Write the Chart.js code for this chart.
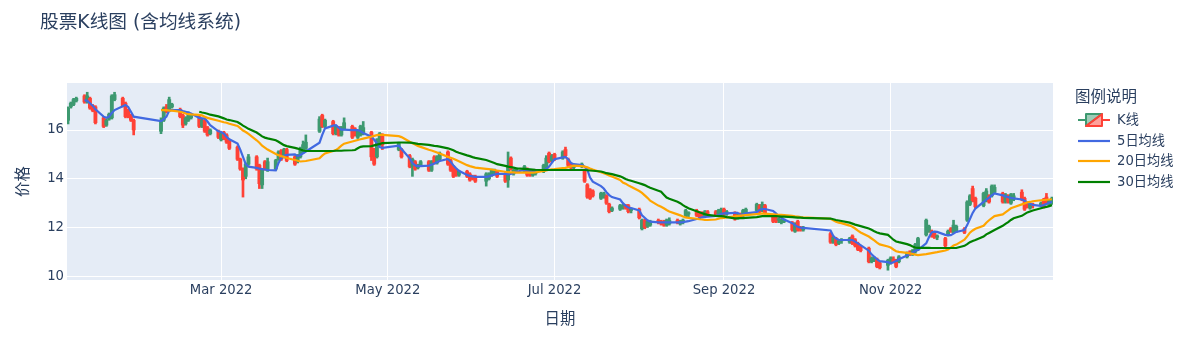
<!DOCTYPE html>
<html lang="zh-CN">
<head>
<meta charset="utf-8">
<title>股票K线图 (含均线系统)</title>
<script src="https://cdn.jsdelivr.net/npm/chart.js@4/dist/chart.umd.min.js"></script>
<style>
  html, body { margin:0; padding:0; background:#fff; }
  #wrap { position:relative; width:1185px; height:339px; overflow:hidden; color:#2a3f5f;
          font-family:"DejaVu Sans","Noto Sans CJK SC",sans-serif; }
  #chart { position:absolute; left:0; top:0; }
  #title { position:absolute; left:40px; top:12px; font-size:18.7px; line-height:20px; white-space:nowrap; }
  .lgtitle { position:absolute; left:1075px; top:89px; font-size:15.5px; line-height:17px; white-space:nowrap; }
  .row { position:absolute; left:1078px; height:16px; white-space:nowrap; }
  .row svg { position:absolute; left:0; top:1px; }
  .row span { position:absolute; left:39px; top:0; font-size:13.2px; line-height:16px; }
</style>
</head>
<body>
<div id="wrap">
  <canvas id="chart" width="1185" height="339"></canvas>
  <div id="title">股票K线图 (含均线系统)</div>
  <div class="lgtitle">图例说明</div>
  <div class="row" style="top:112px">
    <svg width="32" height="14" viewBox="0 0 32 14">
      <line x1="0" y1="7" x2="8" y2="7" stroke="#3D9970" stroke-width="2"/>
      <line x1="24" y1="7" x2="32" y2="7" stroke="#FF4136" stroke-width="2"/>
      <polygon points="8,1 24,1 8,13" fill="rgba(61,153,112,0.5)" stroke="#3D9970" stroke-width="2" stroke-linejoin="round"/>
      <polygon points="24,1 24,13 8,13" fill="rgba(255,65,54,0.5)" stroke="#FF4136" stroke-width="2" stroke-linejoin="round"/>
    </svg>
    <span>K线</span>
  </div>
  <div class="row" style="top:132.5px">
    <svg width="32" height="14" viewBox="0 0 32 14"><line x1="0" y1="7" x2="32" y2="7" stroke="#4169E1" stroke-width="2.2"/></svg>
    <span>5日均线</span>
  </div>
  <div class="row" style="top:153px">
    <svg width="32" height="14" viewBox="0 0 32 14"><line x1="0" y1="7" x2="32" y2="7" stroke="#FFA500" stroke-width="2.2"/></svg>
    <span>20日均线</span>
  </div>
  <div class="row" style="top:173.5px">
    <svg width="32" height="14" viewBox="0 0 32 14"><line x1="0" y1="7" x2="32" y2="7" stroke="#008000" stroke-width="2.2"/></svg>
    <span>30日均线</span>
  </div>
</div>
<script>
// ---- trading dates (2022, SSE calendar) ----
const dates = [
"01-04","01-05","01-06","01-07","01-10","01-11","01-12","01-13","01-14","01-17","01-18","01-19","01-20","01-21","01-24","01-25","01-26","01-27","01-28",
"02-07","02-08","02-09","02-10","02-11","02-14","02-15","02-16","02-17","02-18","02-21","02-22","02-23","02-24","02-25","02-28",
"03-01","03-02","03-03","03-04","03-07","03-08","03-09","03-10","03-11","03-14","03-15","03-16","03-17","03-18","03-21","03-22","03-23","03-24","03-25","03-28","03-29","03-30","03-31",
"04-01","04-06","04-07","04-08","04-11","04-12","04-13","04-14","04-15","04-18","04-19","04-20","04-21","04-22","04-25","04-26","04-27","04-28","04-29",
"05-05","05-06","05-09","05-10","05-11","05-12","05-13","05-16","05-17","05-18","05-19","05-20","05-23","05-24","05-25","05-26","05-27","05-30","05-31",
"06-01","06-02","06-06","06-07","06-08","06-09","06-10","06-13","06-14","06-15","06-16","06-17","06-20","06-21","06-22","06-23","06-24","06-27","06-28","06-29","06-30",
"07-01","07-04","07-05","07-06","07-07","07-08","07-11","07-12","07-13","07-14","07-15","07-18","07-19","07-20","07-21","07-22","07-25","07-26","07-27","07-28","07-29",
"08-01","08-02","08-03","08-04","08-05","08-08","08-09","08-10","08-11","08-12","08-15","08-16","08-17","08-18","08-19","08-22","08-23","08-24","08-25","08-26","08-29","08-30","08-31",
"09-01","09-02","09-05","09-06","09-07","09-08","09-09","09-13","09-14","09-15","09-16","09-19","09-20","09-21","09-22","09-23","09-26","09-27","09-28","09-29","09-30",
"10-10","10-11","10-12","10-13","10-14","10-17","10-18","10-19","10-20","10-21","10-24","10-25","10-26","10-27","10-28","10-31",
"11-01","11-02","11-03","11-04","11-07","11-08","11-09","11-10","11-11","11-14","11-15","11-16","11-17","11-18","11-21","11-22","11-23","11-24","11-25","11-28","11-29","11-30",
"12-01","12-02","12-05","12-06","12-07","12-08","12-09","12-12","12-13","12-14","12-15","12-16","12-19","12-20","12-21","12-22","12-23","12-26","12-27","12-28","12-29","12-30"
];

const open = [
16.40,16.95,17.05,17.20,17.40,17.15,17.30,17.00,16.95,16.50,16.20,16.45,16.50,17.25,17.30,17.10,16.80,16.60,16.40,
15.95,16.40,16.95,16.80,16.95,16.85,16.60,16.25,16.40,16.50,16.55,16.15,16.40,16.10,15.85,15.95,
15.60,15.90,15.80,15.55,15.30,14.80,14.40,14.10,14.60,14.90,14.55,13.75,14.70,14.35,14.40,14.80,15.15,14.90,15.20,14.90,14.70,14.90,15.10,
15.25,15.95,16.60,16.15,16.35,15.85,16.10,15.80,16.05,16.15,16.05,15.70,15.80,15.85,15.90,15.20,14.90,15.40,15.80,
15.20,15.20,14.95,14.50,14.70,14.45,14.55,14.70,14.35,14.90,14.65,14.80,15.10,14.75,14.50,14.35,14.15,14.30,14.20,
14.05,14.10,13.90,14.00,14.15,14.25,14.30,14.20,13.95,14.85,14.20,14.35,14.30,14.40,14.30,14.15,14.20,14.30,14.40,15.05,14.75,
15.00,14.85,15.20,14.80,14.60,14.45,14.50,14.35,13.75,13.55,13.50,13.20,13.25,13.30,12.95,12.70,12.75,12.80,12.90,12.90,12.70,
12.75,11.95,12.30,12.05,12.10,12.30,12.25,12.25,12.10,12.15,12.30,12.15,12.20,12.45,12.55,12.70,12.60,12.55,12.45,12.65,12.65,12.50,12.55,
12.75,12.55,12.60,12.45,12.55,12.50,12.60,12.70,12.90,12.70,12.90,12.50,12.40,12.30,12.20,12.25,12.20,11.85,12.25,12.00,11.90,
11.75,11.40,11.55,11.35,11.45,11.40,11.65,11.50,11.35,11.20,11.15,10.60,10.65,10.70,10.55,10.45,
10.55,10.70,10.65,10.60,10.80,11.00,10.90,11.00,11.10,11.70,11.85,11.85,11.80,11.60,11.55,11.70,11.95,11.80,11.85,11.95,12.30,12.95,
13.60,13.20,12.90,13.10,13.30,13.30,13.45,13.40,13.05,13.30,13.00,13.15,13.45,13.20,13.00,12.80,12.95,12.90,13.15,13.25,12.95,13.00
];
const high = [
16.95,17.15,17.30,17.35,17.45,17.55,17.35,17.05,17.00,16.55,16.45,16.70,17.45,17.55,17.35,17.15,16.85,16.65,16.45,
16.50,16.95,17.05,17.35,17.10,16.90,16.65,16.55,16.75,16.65,16.60,16.45,16.45,16.15,16.05,16.00,
15.90,15.95,15.85,15.60,15.35,14.85,14.45,14.65,15.00,14.95,14.60,14.40,14.75,14.85,14.80,15.15,15.20,15.25,15.25,14.95,15.00,15.30,15.55,
15.80,16.55,16.65,16.45,16.40,16.20,16.15,16.15,16.50,16.20,16.10,16.00,16.20,16.35,15.95,15.25,15.65,15.90,15.85,
15.50,15.25,15.00,14.85,14.75,14.60,14.75,14.75,14.75,14.95,14.95,15.10,15.15,14.80,14.55,14.40,14.35,14.35,14.25,
14.15,14.15,14.25,14.25,14.40,14.40,14.35,14.25,15.10,14.90,14.40,14.45,14.55,14.45,14.35,14.35,14.35,14.60,14.95,15.10,15.00,
15.05,15.15,15.30,14.85,14.65,14.60,14.65,14.40,13.80,13.60,13.55,13.45,13.45,13.35,13.00,12.85,12.95,12.95,12.95,12.95,12.80,
12.80,12.35,12.35,12.30,12.30,12.35,12.30,12.30,12.35,12.40,12.35,12.30,12.35,12.75,12.65,12.75,12.65,12.65,12.70,12.70,12.70,12.75,12.80,
12.80,12.70,12.65,12.55,12.60,12.75,12.80,13.00,12.95,13.05,12.95,12.55,12.45,12.40,12.35,12.35,12.25,12.20,12.30,12.05,12.05,
11.80,11.65,11.60,11.50,11.55,11.60,11.70,11.55,11.40,11.25,11.20,10.80,10.80,10.75,10.60,10.70,
10.80,10.80,10.70,10.85,11.00,11.05,11.10,11.35,11.60,12.35,12.10,11.90,11.85,11.70,11.60,11.90,12.00,12.30,12.10,12.00,13.10,13.35,
13.70,13.25,13.45,13.60,13.35,13.75,13.75,13.45,13.40,13.35,13.40,13.40,13.55,13.25,13.05,13.00,13.00,13.05,13.20,13.40,13.15,13.25
];
const low = [
16.25,16.90,17.00,17.15,17.10,17.10,16.85,16.75,16.25,16.10,16.15,16.40,16.45,17.20,16.95,16.50,16.50,16.35,15.80,
15.85,16.35,16.70,16.75,16.90,16.50,16.10,16.20,16.35,16.45,16.10,16.10,15.90,15.75,15.80,15.65,
15.55,15.60,15.45,15.20,14.75,14.35,13.25,14.00,14.55,14.35,13.60,13.60,14.35,14.30,14.35,14.75,14.75,14.85,14.70,14.55,14.65,14.85,15.05,
15.20,15.90,16.10,16.10,15.80,15.80,15.75,15.75,16.00,15.65,15.75,15.65,15.75,15.80,14.75,14.55,14.85,15.35,15.20,
15.15,14.85,14.45,14.10,14.35,14.40,14.50,14.30,14.30,14.60,14.60,14.75,14.55,14.30,14.05,14.10,14.10,14.05,13.90,
13.95,13.85,13.70,13.95,14.10,14.20,14.05,13.85,13.65,14.35,14.15,14.25,14.25,14.10,14.10,14.10,14.15,14.25,14.35,14.65,14.70,
14.75,14.80,14.85,14.50,14.40,14.40,14.45,13.85,13.20,13.15,13.25,13.15,13.20,12.95,12.60,12.65,12.70,12.75,12.75,12.60,12.60,
12.35,11.90,11.95,12.00,12.05,12.15,12.10,12.05,12.05,12.10,12.15,12.10,12.15,12.40,12.45,12.45,12.40,12.45,12.40,12.45,12.45,12.45,12.50,
12.50,12.50,12.30,12.35,12.40,12.45,12.55,12.65,12.60,12.65,12.55,12.20,12.20,12.20,12.15,12.20,11.85,11.80,11.85,11.85,11.85,
11.35,11.35,11.25,11.30,11.35,11.35,11.30,11.20,11.05,11.00,10.55,10.55,10.60,10.35,10.30,10.25,
10.50,10.55,10.35,10.55,10.75,10.85,10.85,10.95,11.05,11.65,11.80,11.60,11.55,11.50,11.20,11.65,11.80,11.75,11.80,11.75,12.25,12.90,
13.05,12.80,12.85,13.05,13.00,13.25,13.40,13.00,13.00,13.00,12.95,13.10,13.10,12.70,12.80,12.75,12.80,12.85,12.80,12.95,12.90,12.95
];
const close = [
16.90,17.10,17.25,17.30,17.15,17.40,16.90,16.80,16.30,16.15,16.40,16.65,17.40,17.45,17.00,16.55,16.55,16.40,16.00,
16.40,16.90,16.75,17.25,17.05,16.55,16.20,16.50,16.70,16.60,16.15,16.40,15.95,15.80,16.00,15.70,
15.85,15.65,15.50,15.25,14.80,14.40,13.95,14.60,14.90,14.40,13.80,14.35,14.40,14.70,14.75,15.10,14.80,15.20,14.75,14.60,14.95,15.20,15.40,
15.50,16.45,16.15,16.40,15.85,16.15,15.80,16.10,16.30,15.70,15.80,15.95,16.15,16.10,14.90,14.60,15.60,15.85,15.40,
15.45,14.90,14.50,14.80,14.40,14.55,14.70,14.35,14.72,14.67,14.90,15.05,14.60,14.35,14.10,14.15,14.30,14.10,13.95,
14.00,13.90,14.20,14.20,14.35,14.35,14.10,13.90,14.50,14.40,14.35,14.40,14.50,14.15,14.15,14.30,14.30,14.55,14.85,14.70,14.95,
14.80,15.10,14.95,14.55,14.45,14.55,14.60,13.90,13.25,13.20,13.30,13.40,13.40,13.00,12.65,12.80,12.90,12.90,12.80,12.65,12.75,
12.40,12.30,12.00,12.25,12.25,12.20,12.15,12.10,12.30,12.30,12.20,12.25,12.30,12.70,12.60,12.50,12.45,12.50,12.65,12.50,12.50,12.70,12.75,
12.55,12.65,12.35,12.50,12.45,12.70,12.75,12.95,12.65,12.95,12.60,12.25,12.25,12.35,12.30,12.30,11.90,12.15,11.90,11.90,12.00,
11.40,11.60,11.30,11.45,11.50,11.55,11.35,11.25,11.10,11.05,10.60,10.75,10.75,10.40,10.35,10.65,
10.75,10.60,10.40,10.80,10.95,10.90,11.05,11.30,11.55,12.30,12.05,11.65,11.60,11.65,11.25,11.85,11.85,12.10,12.05,11.80,13.05,13.30,
13.10,12.85,13.40,13.50,13.05,13.70,13.65,13.05,13.35,13.05,13.35,13.30,13.15,12.75,12.85,12.95,12.90,13.00,12.85,13.00,13.10,13.20
];

// moving averages
const ma5 = [
null,null,null,null,17.23,17.20,17.10,17.00,16.85,16.55,16.50,16.55,16.70,16.82,16.98,17.03,16.95,16.75,16.55,
16.37,16.45,16.55,16.80,16.82,16.82,16.78,16.75,16.72,16.68,16.50,16.48,16.48,16.35,16.20,15.95,
15.92,15.85,15.72,15.62,15.45,15.20,14.90,14.60,14.50,14.45,14.42,14.40,14.38,14.36,14.35,14.65,14.85,14.95,14.98,15.00,14.93,14.98,15.05,
15.12,15.48,15.80,16.07,16.18,16.20,16.10,16.02,16.02,16.00,16.00,16.00,15.95,15.88,15.73,15.60,15.45,15.30,15.27,
15.36,15.22,14.84,14.65,14.55,14.52,14.52,14.54,14.58,14.63,14.68,14.73,14.81,14.70,14.55,14.43,14.33,14.16,14.12,
14.10,14.08,14.08,14.10,14.14,14.17,14.20,14.20,14.18,14.20,14.25,14.29,14.36,14.34,14.32,14.30,14.30,14.34,14.40,14.50,14.65,
14.80,14.88,14.90,14.80,14.65,14.60,14.56,14.50,14.38,14.05,13.88,13.70,13.60,13.45,13.33,13.25,13.15,13.00,12.90,12.82,12.80,
12.70,12.50,12.40,12.30,12.24,12.21,12.21,12.21,12.21,12.21,12.21,12.21,12.22,12.24,12.26,12.35,12.38,12.42,12.44,12.45,12.48,12.50,12.56,
12.58,12.58,12.60,12.60,12.52,12.54,12.58,12.63,12.72,12.76,12.76,12.68,12.58,12.46,12.40,12.33,12.18,12.10,12.03,12.00,11.99,
11.88,11.65,11.55,11.50,11.49,11.49,11.49,11.42,11.35,11.28,11.05,10.90,10.80,10.70,10.62,10.58,
10.53,10.58,10.63,10.70,10.85,10.92,10.98,11.05,11.08,11.35,11.60,11.80,11.83,11.82,11.70,11.69,11.69,11.75,11.82,11.90,12.10,12.35,
12.60,12.78,13.05,13.15,13.22,13.32,13.40,13.32,13.28,13.25,13.22,13.20,13.15,13.10,13.03,12.98,12.93,12.89,12.92,12.97,13.02,13.06
];
const ma20 = [
null,null,null,null,null,null,null,null,null,null,null,null,null,null,null,null,null,null,null,
16.82,16.82,16.82,16.80,16.80,16.75,16.72,16.68,16.65,16.64,16.62,16.60,16.55,16.50,16.47,16.38,
16.35,16.32,16.30,16.26,16.17,16.08,15.98,15.92,15.84,15.58,15.48,15.36,15.28,15.20,15.02,14.97,14.93,14.90,14.85,14.77,14.74,14.71,14.72,
14.73,14.84,14.95,15.04,15.14,15.18,15.26,15.36,15.44,15.53,15.56,15.59,15.62,15.65,15.73,15.76,15.79,15.80,15.80,
15.75,15.71,15.52,15.46,15.41,15.35,15.31,15.19,15.16,15.12,15.08,15.04,14.90,14.86,14.82,14.77,14.72,14.56,14.52,
14.49,14.46,14.41,14.40,14.38,14.36,14.34,14.29,14.27,14.26,14.26,14.25,14.25,14.25,14.25,14.25,14.26,14.32,14.34,14.37,14.39,
14.40,14.44,14.45,14.48,14.51,14.54,14.52,14.50,14.47,14.42,14.38,14.27,14.23,14.19,14.14,14.09,13.95,13.85,13.80,13.73,13.67,
13.50,13.42,13.32,13.22,13.10,12.90,12.85,12.79,12.72,12.66,12.54,12.50,12.45,12.42,12.40,12.36,12.34,12.33,12.31,12.31,12.33,12.36,12.39,
12.40,12.42,12.46,12.48,12.49,12.50,12.51,12.55,12.56,12.58,12.57,12.54,12.53,12.52,12.52,12.51,12.48,12.46,12.45,12.43,12.42,
12.36,12.30,12.24,12.20,12.18,12.08,12.03,11.96,11.87,11.80,11.63,11.55,11.47,11.38,11.31,11.22,
11.18,11.10,11.03,11.00,10.96,10.94,10.92,10.89,10.87,10.91,10.93,10.95,10.97,10.99,11.06,11.10,11.18,11.26,11.30,11.50,11.64,11.79,
11.88,11.95,12.07,12.20,12.30,12.39,12.47,12.54,12.62,12.70,12.79,12.83,12.95,12.99,13.03,13.05,13.08,13.12,13.13,13.14,13.15,13.16
];
const ma30 = [
null,null,null,null,null,null,null,null,null,null,null,null,null,null,null,null,null,null,null,
null,null,null,null,null,null,null,null,null,null,16.75,16.72,16.70,16.67,16.63,16.56,
16.52,16.48,16.43,16.41,16.33,16.26,16.18,16.12,16.05,15.90,15.82,15.74,15.69,15.66,15.58,15.52,15.45,15.38,15.34,15.27,15.24,15.20,15.16,
15.14,15.14,15.14,15.14,15.14,15.15,15.15,15.15,15.16,15.17,15.18,15.25,15.31,15.33,15.34,15.37,15.40,15.43,15.46,
15.49,15.49,15.48,15.47,15.45,15.43,15.42,15.39,15.37,15.35,15.34,15.32,15.25,15.21,15.17,15.11,15.07,14.96,14.93,
14.89,14.86,14.77,14.73,14.69,14.65,14.60,14.53,14.50,14.48,14.46,14.43,14.41,14.40,14.39,14.38,14.37,14.36,14.36,14.36,14.36,
14.36,14.36,14.36,14.36,14.36,14.36,14.36,14.36,14.35,14.34,14.33,14.30,14.27,14.23,14.21,14.19,14.10,14.05,13.99,13.95,13.92,
13.82,13.78,13.74,13.68,13.63,13.51,13.47,13.35,13.23,13.18,13.06,13.00,12.92,12.85,12.79,12.67,12.63,12.59,12.55,12.52,12.48,12.47,12.47,
12.46,12.43,12.38,12.38,12.39,12.39,12.40,12.43,12.45,12.47,12.47,12.47,12.47,12.46,12.45,12.45,12.43,12.42,12.41,12.41,12.40,
12.37,12.34,12.31,12.29,12.27,12.20,12.16,12.12,12.09,12.06,11.96,11.91,11.85,11.80,11.76,11.70,
11.60,11.50,11.43,11.40,11.32,11.28,11.22,11.18,11.17,11.17,11.17,11.16,11.16,11.16,11.16,11.16,11.16,11.16,11.16,11.25,11.32,11.40,
11.45,11.49,11.63,11.72,11.78,11.84,11.90,12.07,12.15,12.22,12.31,12.38,12.48,12.55,12.62,12.66,12.70,12.79,12.82,12.85,12.88,12.92
];

const xTickDates = ["2022-03-01","2022-05-01","2022-07-01","2022-09-01","2022-11-01"];
const xTickLabels = ["Mar 2022","May 2022","Jul 2022","Sep 2022","Nov 2022"];
const yTickValues = [10, 12, 14, 16];

// ---- helpers ----
const dayOf = s => (Date.UTC(+s.slice(0,4), +s.slice(5,7) - 1, +s.slice(8,10)) - Date.UTC(2022,0,1)) / 864e5;
const xs = dates.map(d => dayOf("2022-" + d));
const xTickValues = xTickDates.map(dayOf);
const UP = "#3D9970", DOWN = "#FF4136";
const candleColors = close.map((c, i) => c >= open[i] ? UP : DOWN);
const FONT = '"DejaVu Sans", "Noto Sans CJK SC", sans-serif';
const TXT = "#2a3f5f";

const plotBg = {
  id: "plotBg",
  beforeDraw(chart) {
    const { ctx, chartArea: a } = chart;
    ctx.save();
    ctx.fillStyle = "#E5ECF6";
    ctx.fillRect(a.left, a.top, a.right - a.left, a.bottom - a.top);
    ctx.restore();
  }
};

const lineDs = (label, arr, color, order) => ({
  type: "line", label, order,
  data: xs.map((x, i) => ({ x, y: arr[i] })),
  borderColor: color, backgroundColor: color, borderWidth: 2.2,
  pointRadius: 0, pointHoverRadius: 0, fill: false, tension: 0, spanGaps: false
});

new Chart(document.getElementById("chart"), {
  type: "bar",
  data: {
    datasets: [
      { type: "bar", label: "wick", order: 6, grouped: false,
        data: xs.map((x, i) => ({ x, y: [low[i], high[i]] })),
        backgroundColor: candleColors, barThickness: 2, borderWidth: 0 },
      { type: "bar", label: "K线", order: 5, grouped: false,
        data: xs.map((x, i) => ({ x, y: [Math.min(open[i], close[i]), Math.max(open[i], close[i])] })),
        backgroundColor: candleColors, barThickness: 3.2, borderWidth: 0, minBarLength: 1.5 },
      lineDs("5日均线", ma5, "#4169E1", 3),
      lineDs("20日均线", ma20, "#FFA500", 2),
      lineDs("30日均线", ma30, "#008000", 1)
    ]
  },
  options: {
    responsive: false, animation: false, devicePixelRatio: 1,
    layout: { padding: { left: 0, right: 132, top: 83, bottom: 0 } },
    plugins: { legend: { display: false }, title: { display: false }, tooltip: { enabled: false } },
    scales: {
      x: {
        type: "linear", min: 2.6, max: 363.4, offset: false,
        grid: { color: "#ffffff", lineWidth: 1, drawTicks: false, offset: false },
        border: { display: false },
        ticks: { autoSkip: false, maxRotation: 0, padding: 3, color: TXT, font: { family: FONT, size: 13.2 },
                 callback: (v, i) => xTickLabels[i] },
        afterBuildTicks: s => { s.ticks = xTickValues.map(v => ({ value: v })); },
        afterFit: s => { s.height = 59; },
        title: { display: true, text: "日期", color: TXT, font: { family: FONT, size: 15.4 }, padding: { top: 0, bottom: 10 } }
      },
      y: {
        type: "linear", min: 9.848, max: 17.93,
        grid: { color: "#ffffff", lineWidth: 1, drawTicks: false },
        border: { display: false },
        ticks: { padding: 3, color: TXT, font: { family: FONT, size: 13.2 }, callback: v => String(v) },
        afterBuildTicks: s => { s.ticks = yTickValues.map(v => ({ value: v })); },
        afterFit: s => { s.width = 67; },
        title: { display: true, text: "价格", color: TXT, font: { family: FONT, size: 15.4 }, padding: { top: 15, bottom: 0 } }
      }
    }
  },
  plugins: [plotBg]
});
</script>
</body>
</html>
